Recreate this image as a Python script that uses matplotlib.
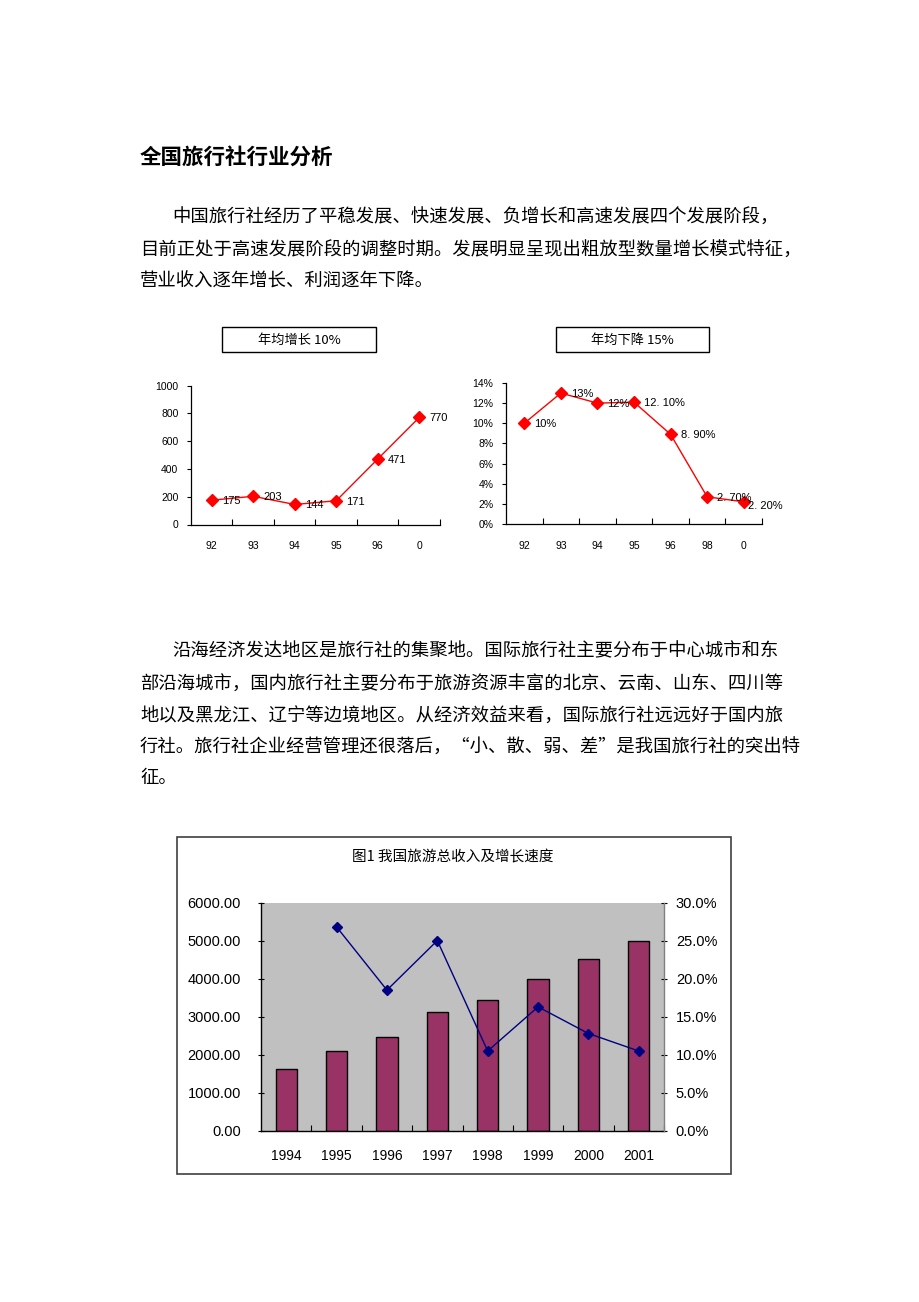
#!/usr/bin/env python3

import numpy as np
import matplotlib
matplotlib.use('Agg')
import matplotlib.pyplot as plt
from matplotlib.patches import Rectangle
from matplotlib.ticker import FuncFormatter

# 旅行社营业收入 (年均增长 10%)
agency_years = ['92', '93', '94', '95', '96', '0']
agency_revenue = [175, 203, 144, 171, 471, 770]

# 旅行社利润率 (年均下降 15%)
margin_years = ['92', '93', '94', '95', '96', '98', '0']
margin_rate = [10.0, 13.0, 12.0, 12.1, 8.9, 2.7, 2.2]
margin_labels = ['10%', '13%', '12%', '12. 10%', '8. 90%', '2. 70%', '2. 20%']

# 图1 我国旅游总收入及增长速度
tour_years = ['1994', '1995', '1996', '1997', '1998', '1999', '2000', '2001']
tour_income = [1638, 2098, 2474, 3112, 3439, 4002, 4519, 4995]
tour_growth = [np.nan, 26.8, 18.5, 25.0, 10.5, 16.3, 12.8, 10.5]

page_title = '全国旅行社行业分析'
para1 = ['中国旅行社经历了平稳发展、快速发展、负增长和高速发展四个发展阶段，',
         '目前正处于高速发展阶段的调整时期。发展明显呈现出粗放型数量增长模式特征，',
         '营业收入逐年增长、利润逐年下降。']
para2 = ['沿海经济发达地区是旅行社的集聚地。国际旅行社主要分布于中心城市和东',
         '部沿海城市，国内旅行社主要分布于旅游资源丰富的北京、云南、山东、四川等',
         '地以及黑龙江、辽宁等边境地区。从经济效益来看，国际旅行社远远好于国内旅',
         '行社。旅行社企业经营管理还很落后，“小、散、弱、差”是我国旅行社的突出特',
         '征。']

CJK = ['Noto Sans CJK SC', 'DejaVu Sans']
NUM = ['Liberation Sans', 'DejaVu Sans']
W, H = 920, 1302

plt.rcParams['font.family'] = NUM
fig = plt.figure(figsize=(W / 100, H / 100), dpi=100)


def add_ax(left, top, right, bottom):
    return fig.add_axes([left / W, 1 - bottom / H,
                         (right - left) / W, (bottom - top) / H])


def ftext(x, y, s, **kw):
    fig.text(x / W, 1 - y / H, s, **kw)


def frame(left, top, right, bottom, **kw):
    fig.patches.append(Rectangle((left / W, 1 - bottom / H),
                                 (right - left) / W, (bottom - top) / H,
                                 transform=fig.transFigure, fill=False, **kw))


def small_line_chart(ax, cats, vals, labels, last_dx=10, last_dy=-1):
    n = len(cats)
    x = np.arange(n)
    ax.plot(x, vals, color='#ff0000', lw=1.0, marker='D', ms=6,
            mfc='#ff0000', mec='#ff0000')
    for i, (v, lab) in enumerate(zip(vals, labels)):
        dx, dy = (last_dx, last_dy) if i == n - 1 else (10, -1)
        ax.annotate(lab, (i, v), xytext=(dx, dy), textcoords='offset pixels',
                    ha='left', va='center', fontsize=8)
    ax.set_xlim(-0.5, n - 0.5)
    ax.set_xticks(x)
    ax.set_xticklabels(cats, fontsize=7.5)
    ax.set_xticks(np.arange(0.5, n, 1), minor=True)
    ax.tick_params(axis='x', which='major', length=0, pad=12)
    ax.tick_params(axis='x', which='minor', direction='in', length=4, width=0.8)
    ax.tick_params(axis='y', direction='out', length=3, width=0.8,
                   labelsize=7.5, pad=6)
    for s in ['top', 'right']:
        ax.spines[s].set_visible(False)
    for s in ['left', 'bottom']:
        ax.spines[s].set_linewidth(0.9)


# ---- page text ----
ftext(140, 157, page_title, family=CJK, fontsize=15.5, fontweight='bold',
      va='center', ha='left')
for i, line in enumerate(para1):
    ftext(172 if i == 0 else 140, [218, 251, 282][i], line, family=CJK,
          fontsize=13.2, va='center', ha='left')
for i, line in enumerate(para2):
    ftext(172 if i == 0 else 140, [651, 685, 717, 748, 778][i], line,
          family=CJK, fontsize=13.2, va='center', ha='left')

# ---- top left chart ----
frame(222, 327, 376, 352, lw=1.0, ec='black')
ftext(299, 340, '年均增长 10%', family=CJK, fontsize=9.5, ha='center', va='center')
ax1 = add_ax(191, 385.5, 440, 524.5)
small_line_chart(ax1, agency_years, agency_revenue,
                 [str(v) for v in agency_revenue])
ax1.set_ylim(0, 1000)
ax1.set_yticks(range(0, 1001, 200))

# ---- top right chart ----
frame(556, 327, 709, 352, lw=1.0, ec='black')
ftext(632, 340, '年均下降 15%', family=CJK, fontsize=9.5, ha='center', va='center')
ax2 = add_ax(506, 383, 762, 524)
small_line_chart(ax2, margin_years, margin_rate, margin_labels,
                 last_dx=4, last_dy=-4)
ax2.set_ylim(0, 14)
ax2.set_yticks(range(0, 15, 2))
ax2.yaxis.set_major_formatter(FuncFormatter(lambda v, p: '%d%%' % v))

# ---- bottom chart ----
frame(177, 837, 731, 1174, lw=1.2, ec='#404040')
ftext(453, 857, '图1 我国旅游总收入及增长速度', family=CJK, fontsize=10.5,
      ha='center', va='center')
ax3 = add_ax(261, 902.5, 664, 1131)
ax3.set_facecolor('#c0c0c0')
xb = np.arange(len(tour_years))
ax3.bar(xb, tour_income, width=0.42, color='#993366', edgecolor='black',
        linewidth=1.0, zorder=2)
ax3.set_xlim(-0.5, len(tour_years) - 0.5)
ax3.set_ylim(0, 6000)
ax3.set_yticks(range(0, 6001, 1000))
ax3.yaxis.set_major_formatter(FuncFormatter(lambda v, p: '%.2f' % v))
ax3.set_xticks(xb)
ax3.set_xticklabels(tour_years)
ax3.set_xticks(np.arange(0.5, len(tour_years), 1), minor=True)
ax3.tick_params(axis='x', which='major', length=0, pad=13, labelsize=10)
ax3.tick_params(axis='x', which='minor', direction='in', length=4, width=0.8)
ax3.tick_params(axis='y', direction='inout', length=5, width=0.8,
                labelsize=10.5, pad=12)
for s in ['top', 'right']:
    ax3.spines[s].set_visible(False)
for s in ['left', 'bottom']:
    ax3.spines[s].set_linewidth(1.0)

ax4 = ax3.twinx()
ax4.plot(xb, tour_growth, color='#000080', lw=1.0, marker='D', ms=5,
         mfc='#000080', mec='#000080', zorder=3)
ax4.set_ylim(0, 30)
ax4.set_yticks(range(0, 31, 5))
ax4.yaxis.set_major_formatter(FuncFormatter(lambda v, p: '%.1f%%' % v))
ax4.tick_params(axis='y', direction='inout', length=5, width=0.8,
                labelsize=10.5, pad=6)
for s in ['top', 'left', 'bottom']:
    ax4.spines[s].set_visible(False)
ax4.spines['right'].set_linewidth(1.0)
ax4.spines['right'].set_color('#808080')

plt.savefig('out.png', dpi=100)
